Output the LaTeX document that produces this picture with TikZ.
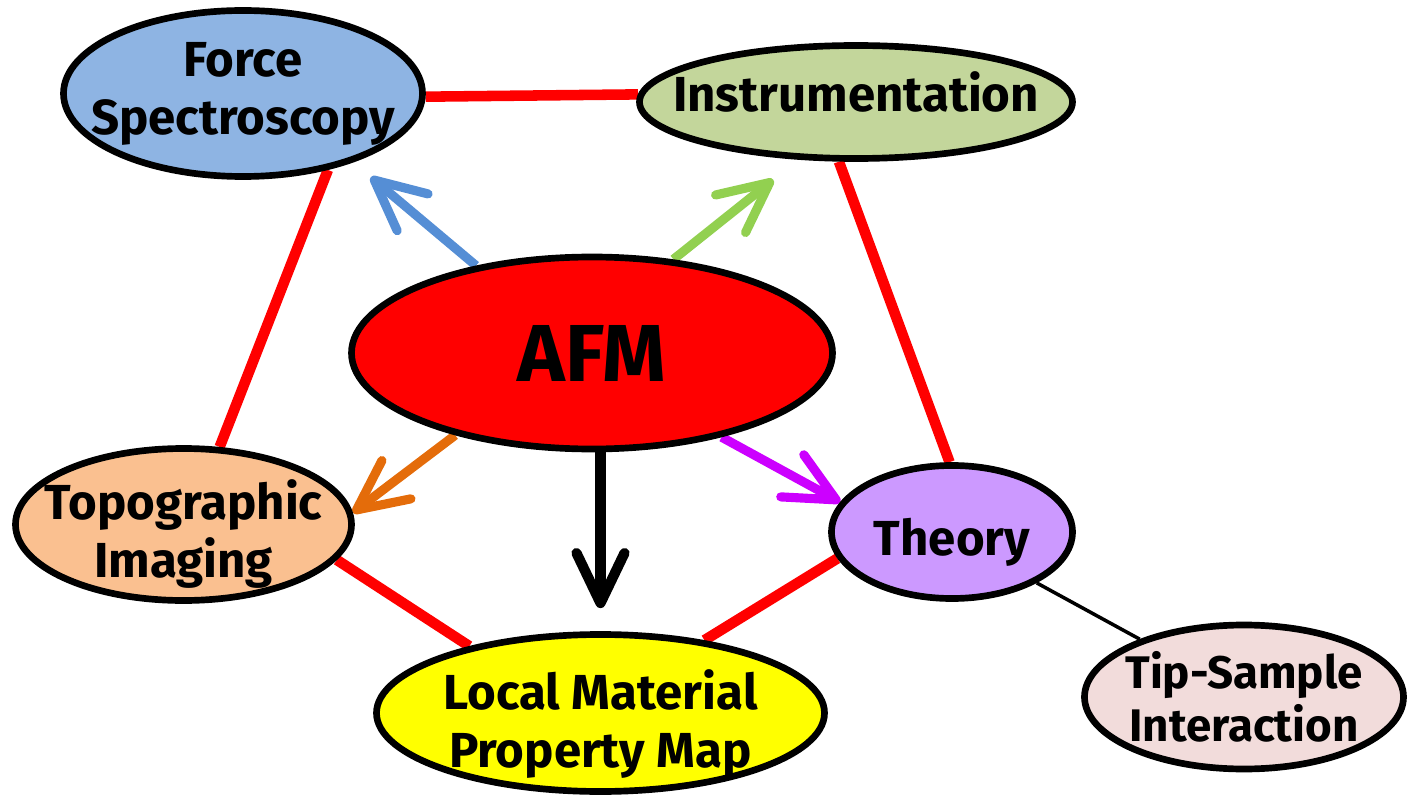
\documentclass[tikz,border=0pt]{standalone}
\usepackage{fontspec}
\setmainfont{Fira Sans}
\usetikzlibrary{shapes.geometric,arrows.meta,backgrounds}
\definecolor{forcefill}{HTML}{8EB4E3}
\definecolor{instrfill}{HTML}{C3D69B}
\definecolor{afmfill}{HTML}{FF0000}
\definecolor{topofill}{HTML}{FAC090}
\definecolor{theoryfill}{HTML}{CC99FF}
\definecolor{localfill}{HTML}{FFFF00}
\definecolor{tipfill}{HTML}{F2DCDB}
\definecolor{linkred}{HTML}{FF0000}
\definecolor{arrowblue}{HTML}{558ED5}
\definecolor{arrowgreen}{HTML}{92D050}
\definecolor{arroworange}{HTML}{E46C0A}
\definecolor{arrowpurple}{HTML}{CC00FF}

\begin{document}
\begin{tikzpicture}[topic/.style={ellipse,draw=black,line width=1.9pt,inner sep=-1.2cm,align=center,font=\fontsize{14}{16.5}\selectfont\bfseries},
link/.style={draw=linkred,line width=3pt},
pointer/.style={line width=2.6pt,-{Straight Barb[length=5mm,width=4.8mm,round]}}]
\useasboundingbox (0,0) rectangle (14.08,7.96);
\node (force) at (2.43,7.025) [topic,fill=forcefill,minimum width=3.59cm,minimum height=1.66cm] {Force\\Spectroscopy};
\node (instr) at (8.56,6.94) [topic,fill=instrfill,minimum width=4.33cm,minimum height=1.13cm,text depth=0.2cm] {Instrumentation};
\node (afm) at (5.92,4.43) [topic,fill=afmfill,minimum width=4.81cm,minimum height=1.92cm,font=\fontsize{23}{27}\selectfont\bfseries] {AFM};
\node (topo) at (1.835,2.715) [topic,fill=topofill,minimum width=3.36cm,minimum height=1.52cm,text height=1.05cm,text depth=0cm] {Topographic\\Imaging};
\node (theory) at (9.52,2.64) [topic,fill=theoryfill,minimum width=2.41cm,minimum height=1.33cm,text height=0.57cm] {Theory};
\node (local) at (6.005,0.83) [topic,fill=localfill,minimum width=4.48cm,minimum height=1.57cm,text height=1.08cm,text depth=0cm] {Local Material\\Property Map};
\node (tip) at (12.44,0.99) [topic,fill=tipfill,minimum width=3.19cm,minimum height=1.44cm,font=\fontsize{13}{15}\selectfont\bfseries] {Tip-Sample\\Interaction};
\begin{pgfonlayer}{background}
\draw [link] (force.-1.1) -- (instr.178.7);
\draw [link] (force.-42.6) -- (topo.65.2);
\draw [link] (instr.-106.7) -- (theory.92);
\draw [link] (topo.-13.4) -- (local.153.9);
\draw [link] (theory.193.7) -- (local.35.2);
\draw [line width=1pt] (theory.-31.3) -- (tip.151.7);
\draw [pointer,draw=arrowblue,shorten >=0.23cm] (afm.143.5) -- (force.-32.6);
\draw [pointer,draw=arrowgreen,shorten >=0.32cm] (afm.49.5) -- (instr.-135.5);
\draw [pointer,draw=arroworange] (afm.211.5) -- (topo.4.2);
\draw [pointer,draw=arrowpurple] (afm.-33.3) -- (theory.165.5);
\draw [pointer,line width=2.9pt,shorten >=0.23cm] (local.north |- afm.south) -- (local.north);
\end{pgfonlayer}
\end{tikzpicture}
\end{document}
